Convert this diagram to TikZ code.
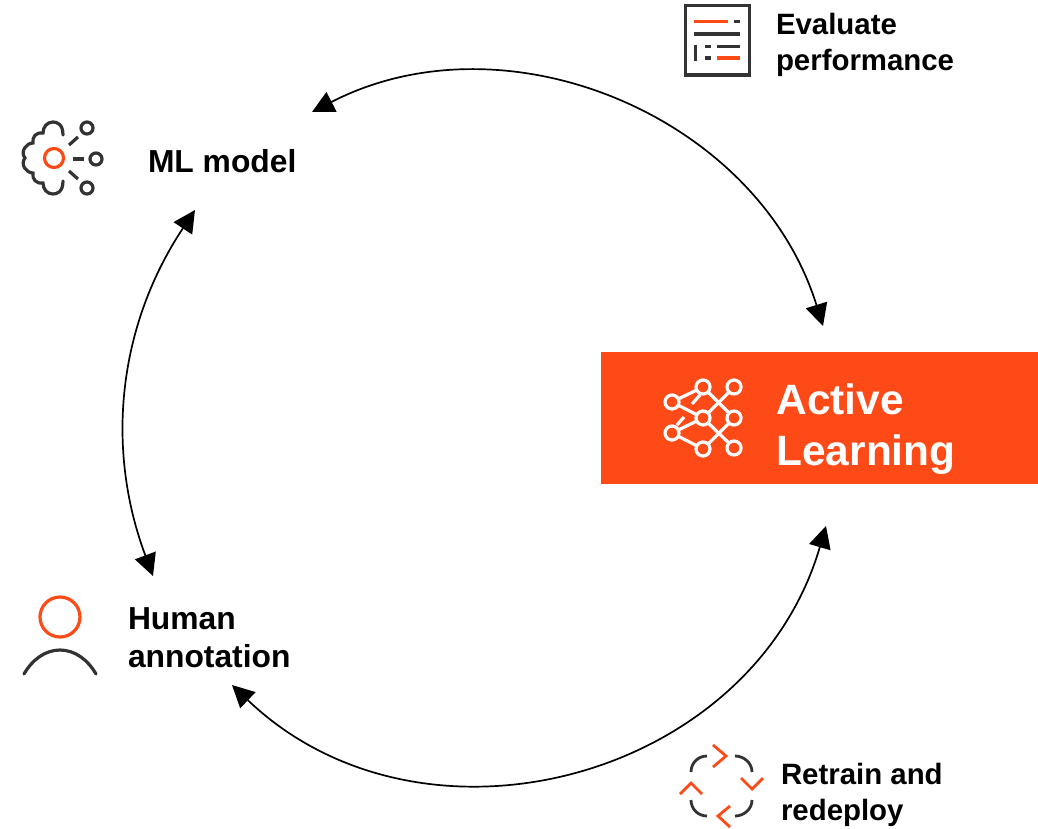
\documentclass[tikz,border=0pt]{standalone}
\usepackage{fontspec}
\setmainfont{Liberation Sans}
\usetikzlibrary{arrows.meta}
\definecolor{brand}{HTML}{FD4A17}
\definecolor{ink}{HTML}{333333}
\tikzset{
  cycle/.style={line width=1.7pt,draw=black,{Triangle[length=22pt,width=22pt]}-{Triangle[length=22pt,width=22pt]}},
  lbl/.style={anchor=base west,inner sep=0pt,outer sep=0pt,font=\bfseries\fontsize{29.4}{32}\selectfont,text=black},
  lblb/.style={lbl,font=\bfseries\fontsize{31.8}{34}\selectfont},
  lblw/.style={lbl,font=\bfseries\fontsize{42.4}{46}\selectfont,text=white},
  inkl/.style={draw=ink,line width=3.2pt},
  brandl/.style={draw=brand,line width=3.2pt},
  whl/.style={draw=white,line width=3.2pt},
  netnode/.style={circle,draw=white,fill=brand,line width=3.2pt,minimum size=14pt,inner sep=0pt},
}
\begin{document}
\begin{tikzpicture}[x=1pt,y=-1pt]
\useasboundingbox (0,0) rectangle (1038,828);
% main box
\node[fill=brand,minimum width=437pt,minimum height=132pt,inner sep=0pt,outer sep=0pt] (box) at (819.5,418) {};
\node[lblw] (active) at (776.5,414) {Active};
\node[lblw] (learning) at (776.5,465) {Learning};
% labels
\node[lbl] (evaluate) at (776,34) {Evaluate};
\node[lbl] (performance) at (776,70) {performance};
\node[lblb] (mlmodel) at (148,172) {ML model};
\node[lblb] (human) at (128,629) {Human};
\node[lblb] (annotation) at (128,667) {annotation};
\node[lbl] (retrain) at (781,784) {Retrain and};
\node[lbl] (redeploy) at (781,820) {redeploy};
% connector ends
\coordinate (a1) at (312,112);
\coordinate (a2) at (823,326);
\coordinate (b1) at (195,210);
\coordinate (b2) at (153,576);
\coordinate (c1) at (232,685);
\coordinate (c2) at (826,526);
\draw[cycle] (a1) to[bend left=50,looseness=1.015] (a2);
\draw[cycle] (b1) to[bend right=27,looseness=.96] (b2);
\draw[cycle] (c1) to[bend right=58.7,looseness=1.10] (c2);
% document icon
\draw[inkl] (685.5,5.5) rectangle (749.5,75);
\draw[brandl] (694,21.7) -- (728,21.7);
\draw[inkl] (734,21.7) -- (740,21.7);
\draw[inkl] (694,34) -- (740,34);
\draw[inkl] (695.3,45) -- (695.3,61);
\draw[inkl] (705,46.7) -- (711,46.7);
\draw[inkl] (705,58) -- (711,58);
\draw[inkl] (717,46.7) -- (740,46.7);
\draw[brandl] (717,58) -- (740,58);
% brain icon
\draw[inkl,line cap=round] (63,135) .. controls (63,124) and (57,122) .. (53,122)
  .. controls (47,122) and (43,127) .. (43,133)
  .. controls (36,132) and (32,137) .. (33,143)
  .. controls (26,143) and (20,152) .. (25,158)
  .. controls (20,164) and (26,173) .. (33,173)
  .. controls (32,179) and (36,184) .. (43,183)
  .. controls (43,189) and (47,194) .. (53,194)
  .. controls (57,194) and (63,192) .. (63,181);
\draw[brandl] (54,158) circle[radius=9.5];
\draw[inkl] (87,128) circle[radius=6];
\draw[inkl] (96,159) circle[radius=6];
\draw[inkl] (87,188) circle[radius=6];
\draw[inkl] (69,145) -- (78,137);
\draw[inkl] (73,159) -- (84,159);
\draw[inkl] (69,171) -- (78,179);
% network icon
\draw[whl] (672,402) -- (703,387) -- (734,418) -- (703,449) -- (672,433) -- (703,418) -- (672,402);
\draw[whl] (734,387) -- (703,418) -- (734,448);
\draw[whl] (692,404) -- (700,395);
\draw[whl] (677,425) -- (684,417);
\foreach \n/\p in {n1/{703,387},n2/{734,387},n3/{672,402},n4/{703,418},n5/{734,418},n6/{672,433},n7/{703,449},n8/{734,448}}
  \node[netnode] (\n) at (\p) {};
% retrain icon
\draw[brandl,line width=2.8pt] (713,745) -- (726,756) -- (713,767);
\draw[brandl,line width=2.8pt] (741,778) -- (752,789) -- (763,778);
\draw[brandl,line width=2.8pt] (730,806) -- (718,816) -- (730,827);
\draw[brandl,line width=2.8pt] (680,794) -- (691,783) -- (702,794);
\draw[inkl,line width=2.8pt] (707,756) .. controls (698,756) and (691,763) .. (691,772);
\draw[inkl,line width=2.8pt] (735,756) .. controls (744,756) and (752,763) .. (752,772);
\draw[inkl,line width=2.8pt] (752,800) .. controls (752,809) and (744,816) .. (735,816);
\draw[inkl,line width=2.8pt] (691,800) .. controls (691,809) and (698,816) .. (707,816);
% person icon
\draw[brandl] (60,617) circle[radius=20];
\draw[inkl,line cap=round] (24,674) .. controls (32,660) and (45,650) .. (60,650) .. controls (75,650) and (88,660) .. (96,674);
\end{tikzpicture}
\end{document}
